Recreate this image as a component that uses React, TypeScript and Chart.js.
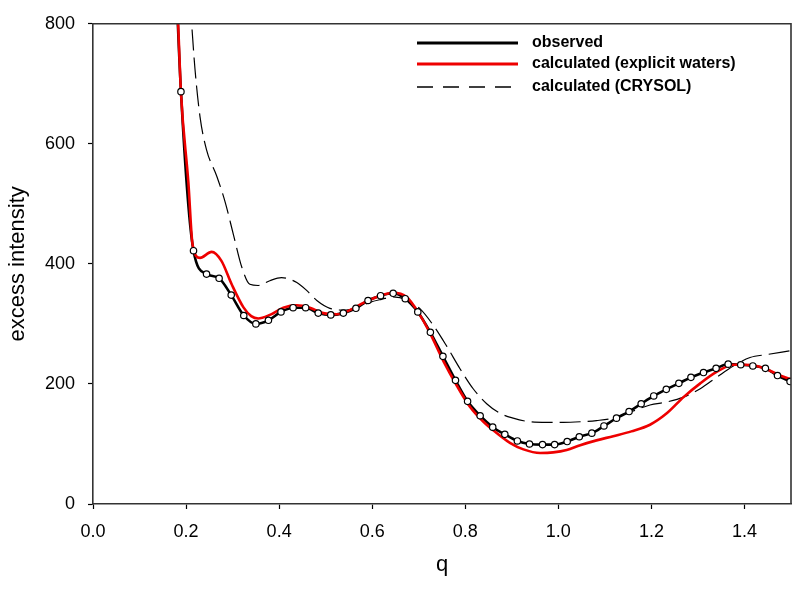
import React, { useEffect, useRef } from "react";
import { Chart, registerables } from "chart.js";

Chart.register(...registerables);

// observed (with markers)
const obsQ = [0.189, 0.216, 0.244, 0.271, 0.297, 0.324, 0.350, 0.377, 0.404, 0.430, 0.457, 0.484, 0.511, 0.538, 0.565, 0.591, 0.618, 0.645, 0.671, 0.698, 0.725, 0.752, 0.779, 0.805, 0.832, 0.859, 0.885, 0.912, 0.938, 0.966, 0.992, 1.019, 1.045, 1.072, 1.098, 1.125, 1.152, 1.178, 1.205, 1.232, 1.259, 1.285, 1.312, 1.339, 1.365, 1.392, 1.418, 1.445, 1.471, 1.498];
const obsI = [687, 422, 383, 376, 348, 314, 300, 306, 320, 327, 327, 318, 315, 318, 326, 339, 347, 351, 342, 320, 286, 246, 206, 171, 147, 128, 116, 105, 100, 99, 99, 104, 112, 118, 130, 143, 154, 167, 180, 191, 201, 211, 219, 226, 233, 232, 230, 226, 214, 204];
// leading part of the observed curve above the plot top
const obsLeadQ = [0.170];
const obsLeadI = [1040];

// calculated (explicit waters)
const redQ = [0.170, 0.183, 0.189, 0.205, 0.214, 0.230, 0.255, 0.276, 0.298, 0.323, 0.340, 0.355, 0.380, 0.409, 0.438, 0.466, 0.495, 0.524, 0.552, 0.581, 0.617, 0.645, 0.674, 0.696, 0.724, 0.753, 0.782, 0.810, 0.839, 0.868, 0.896, 0.925, 0.961, 0.989, 1.018, 1.047, 1.082, 1.118, 1.157, 1.197, 1.233, 1.269, 1.305, 1.340, 1.376, 1.400, 1.426, 1.455, 1.484, 1.500];
const redI = [1040, 800, 686, 535, 432, 410, 420, 405, 366, 328, 313, 309, 315, 327, 331, 327, 318, 316, 323, 335, 347, 352, 345, 323, 285, 238, 197, 162, 137, 118, 102, 91, 85, 86, 90, 98, 106, 113, 121, 132, 151, 178, 201, 220, 232, 232, 230, 222, 212, 208];

// calculated (CRYSOL)
const cryQ = [0.200, 0.212, 0.219, 0.230, 0.244, 0.266, 0.284, 0.302, 0.320, 0.337, 0.355, 0.380, 0.405, 0.438, 0.463, 0.481, 0.509, 0.538, 0.567, 0.595, 0.620, 0.645, 0.674, 0.703, 0.731, 0.760, 0.789, 0.817, 0.846, 0.875, 0.903, 0.939, 0.975, 1.011, 1.047, 1.082, 1.118, 1.161, 1.197, 1.233, 1.269, 1.305, 1.340, 1.376, 1.412, 1.448, 1.497];
const cryI = [930, 800, 726, 645, 590, 546, 503, 448, 394, 366, 364, 372, 377, 369, 353, 339, 326, 323, 327, 336, 341, 345, 340, 325, 298, 263, 225, 192, 167, 151, 143, 137, 136, 136, 137, 139, 143, 155, 165, 170, 178, 192, 211, 230, 244, 249, 255];

const xTicks = [0, 0.2, 0.4, 0.6, 0.8, 1.0, 1.2, 1.4];
const yTicks = [0, 200, 400, 600, 800];

const legendLabels = ["observed", "calculated (explicit waters)", "calculated (CRYSOL)"];

const FONT = "'Liberation Sans', Arial, Helvetica, sans-serif";

const pts = (qs: number[], is: number[]) => qs.map((q, i) => ({ x: q, y: is[i] }));

const frameAndLegend = {
  id: "frameAndLegend",
  afterDraw(chart: any) {
    const { ctx, chartArea } = chart;
    ctx.save();
    ctx.strokeStyle = "#333";
    ctx.lineWidth = 1.6;
    ctx.beginPath();
    ctx.moveTo(chartArea.left, chartArea.top);
    ctx.lineTo(chartArea.right, chartArea.top);
    ctx.lineTo(chartArea.right, chartArea.bottom);
    ctx.stroke();

    const rows = [
      { y: 43, color: "#000", width: 3, dash: [] as number[] },
      { y: 64, color: "#ee0000", width: 3, dash: [] as number[] },
      { y: 87, color: "#000", width: 1.3, dash: [16, 10] },
    ];
    rows.forEach((r, i) => {
      ctx.beginPath();
      ctx.setLineDash(r.dash);
      ctx.strokeStyle = r.color;
      ctx.lineWidth = r.width;
      ctx.moveTo(417, r.y);
      ctx.lineTo(518, r.y);
      ctx.stroke();
      ctx.setLineDash([]);
      ctx.fillStyle = "#000";
      ctx.font = `bold 16px ${FONT}`;
      ctx.textBaseline = "middle";
      ctx.textAlign = "left";
      ctx.fillText(legendLabels[i], 532, r.y);
    });
    ctx.restore();
  },
};

export default function App() {
  const ref = useRef<HTMLCanvasElement>(null);
  useEffect(() => {
    document.body.style.margin = "0";
    const chart = new Chart(ref.current!, {
      type: "line",
      data: {
        datasets: [
          {
            label: "observed markers",
            data: pts(obsQ, obsI),
            showLine: false,
            pointRadius: 3.2,
            pointBackgroundColor: "#fff",
            pointBorderColor: "#000",
            pointBorderWidth: 1.2,
            order: 0,
          },
          {
            label: legendLabels[1],
            data: pts(redQ, redI),
            borderColor: "#ee0000",
            borderWidth: 2.6,
            pointRadius: 0,
            cubicInterpolationMode: "monotone",
            order: 1,
          },
          {
            label: legendLabels[0],
            data: pts(obsLeadQ.concat(obsQ), obsLeadI.concat(obsI)),
            borderColor: "#000",
            borderWidth: 2.6,
            pointRadius: 0,
            cubicInterpolationMode: "monotone",
            order: 2,
          },
          {
            label: legendLabels[2],
            data: pts(cryQ, cryI),
            borderColor: "#000",
            borderWidth: 1.2,
            borderDash: [21, 7],
            pointRadius: 0,
            cubicInterpolationMode: "monotone",
            order: 3,
          },
        ],
      },
      options: {
        animation: false,
        responsive: false,
        devicePixelRatio: 1,
        events: [],
        layout: { padding: { top: 15, right: 9, left: 0, bottom: 0 } },
        plugins: { legend: { display: false }, tooltip: { enabled: false } },
        scales: {
          x: {
            type: "linear",
            min: 0,
            max: 1.5,
            afterFit: (s: any) => { s.height = 87; },
            afterBuildTicks: (s: any) => { s.ticks = xTicks.map((v) => ({ value: v })); },
            ticks: {
              color: "#000",
              font: { family: FONT, size: 18 },
              padding: 12,
              maxRotation: 0,
              callback: (v: any) => Number(v).toFixed(1),
            },
            grid: { drawOnChartArea: false, drawTicks: true, tickLength: 5, tickColor: "#000", tickWidth: 1.2 },
            border: { display: true, color: "#333", width: 1.6 },
            title: {
              display: true,
              text: "q",
              color: "#000",
              font: { family: FONT, size: 22 },
              padding: { top: 0, bottom: 13 },
            },
          },
          y: {
            type: "linear",
            min: 0,
            max: 800,
            afterFit: (s: any) => { s.width = 93; },
            afterBuildTicks: (s: any) => { s.ticks = yTicks.map((v) => ({ value: v })); },
            ticks: {
              color: "#000",
              font: { family: FONT, size: 18 },
              padding: 13,
              callback: (v: any) => String(v),
            },
            grid: { drawOnChartArea: false, drawTicks: true, tickLength: 5, tickColor: "#000", tickWidth: 1.2 },
            border: { display: true, color: "#333", width: 1.6 },
            title: {
              display: true,
              text: "excess intensity",
              color: "#000",
              font: { family: FONT, size: 22 },
              padding: { top: 5, bottom: 0 },
            },
          },
        },
      },
      plugins: [frameAndLegend],
    });
    return () => chart.destroy();
  }, []);
  return (
    <div style={{ width: 800, height: 591 }}>
      <canvas ref={ref} width={800} height={591} />
    </div>
  );
}
